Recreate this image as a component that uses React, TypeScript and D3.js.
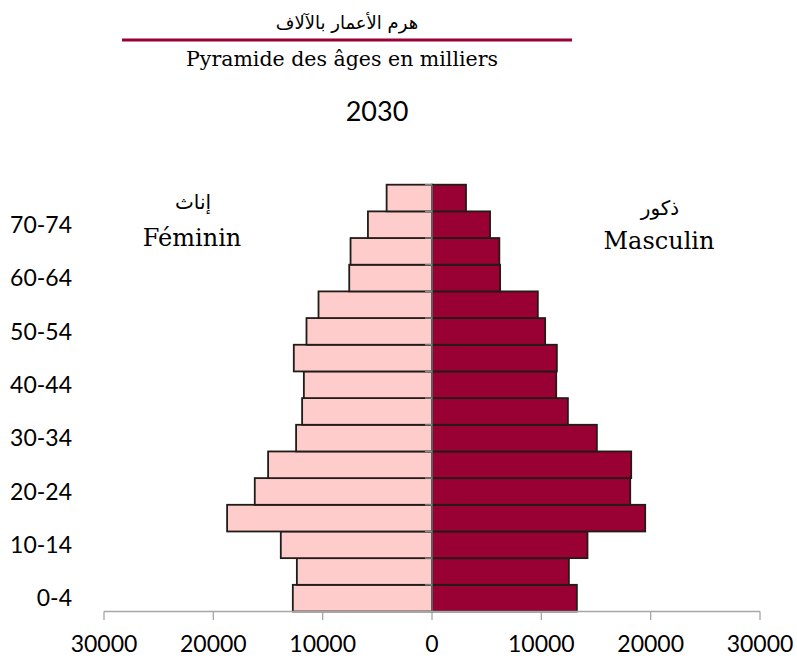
import React from "react";
import * as d3 from "d3";

const ages = ["0-4","5-9","10-14","15-19","20-24","25-29","30-34","35-39","40-44","45-49","50-54","55-59","60-64","65-69","70-74","75+"];
const male = [13250, 12520, 14220, 19500, 18130, 18220, 15080, 12430, 11360, 11420, 10350, 9680, 6230, 6160, 5310, 3110];
const female = [12730, 12360, 13830, 18740, 16210, 14990, 12430, 11880, 11720, 12640, 11480, 10380, 7570, 7450, 5860, 4150];
const xTicks = [-30000, -20000, -10000, 0, 10000, 20000, 30000];
const titleAr = "هرم الأعمار بالآلاف";
const titleFr = "Pyramide des âges en milliers";
const year = "2030";
const femLabelAr = "إناث";
const femLabelFr = "Féminin";
const maleLabelAr = "ذكور";
const maleLabelFr = "Masculin";

export default function App() {
  const W = 797, H = 661;
  const x = d3.scaleLinear().domain([-30000, 30000]).range([104, 760]);
  const y = d3.scaleBand<string>().domain(ages.slice().reverse()).range([184.7, 611.5]).padding(0);
  const bw = y.bandwidth();
  const sansFont = "Lato, 'Open Sans', sans-serif";
  const serifFont = "'DejaVu Serif', serif";
  const arFont = "'DejaVu Sans', sans-serif";
  const stroke = "#211c18";
  return (
    <svg width={W} height={H} style={{ position: "absolute", left: 0, top: 0, background: "#fff" }}>
      {/* titles */}
      <text x={347} y={29} textAnchor="middle" fontFamily={arFont} fontSize={18} fill="#000" direction="rtl">{titleAr}</text>
      <line x1={122} x2={572} y1={40} y2={40} stroke="#990033" strokeWidth={3} />
      <text x={342} y={66} textAnchor="middle" fontFamily={serifFont} fontSize={20.5} fill="#000">{titleFr}</text>
      <text x={377} y={121} textAnchor="middle" fontFamily={sansFont} fontSize={27} fill="#000">{year}</text>

      {/* bars */}
      {ages.map((a, i) => (
        <g key={a}>
          <rect x={x(-female[i])} y={y(a)!} width={x(0) - x(-female[i])} height={bw} fill="#FFCCCC" stroke={stroke} strokeWidth={1.8} />
          <rect x={x(0)} y={y(a)!} width={x(male[i]) - x(0)} height={bw} fill="#990033" stroke={stroke} strokeWidth={1.8} />
        </g>
      ))}

      {/* vertical axis at zero */}
      <line x1={x(0)} x2={x(0)} y1={184.7} y2={611.5} stroke="#7f7f7f" strokeWidth={1.3} />
      {ages.map((a) => (
        <line key={"t" + a} x1={x(0) - 7} x2={x(0)} y1={y(a)!} y2={y(a)!} stroke="#8c8c8c" strokeWidth={1.3} />
      ))}

      {/* age labels */}
      {ages.map((a, i) => i % 2 === 0 ? (
        <text key={"l" + a} x={72} y={y(a)! + bw / 2} dy="0.36em" textAnchor="end" fontFamily={sansFont} fontSize={23} fill="#000">{a}</text>
      ) : null)}

      {/* x axis */}
      <line x1={x(-30000)} x2={x(30000)} y1={611.5} y2={611.5} stroke="#a6a6a6" strokeWidth={1.3} />
      {xTicks.map((t) => (
        <g key={"x" + t}>
          <line x1={x(t)} x2={x(t)} y1={611.5} y2={620} stroke="#a6a6a6" strokeWidth={1.3} />
          <text x={x(t)} y={652} textAnchor="middle" fontFamily={sansFont} fontSize={23} fill="#000">{Math.abs(t)}</text>
        </g>
      ))}

      {/* sex labels */}
      <text x={193} y={209} textAnchor="middle" fontFamily={arFont} fontSize={20} fill="#000" direction="rtl">{femLabelAr}</text>
      <text x={192} y={246} textAnchor="middle" fontFamily={serifFont} fontSize={24} fill="#000">{femLabelFr}</text>
      <text x={660} y={215} textAnchor="middle" fontFamily={arFont} fontSize={20} fill="#000" direction="rtl">{maleLabelAr}</text>
      <text x={659} y={249} textAnchor="middle" fontFamily={serifFont} fontSize={24} fill="#000">{maleLabelFr}</text>
    </svg>
  );
}
